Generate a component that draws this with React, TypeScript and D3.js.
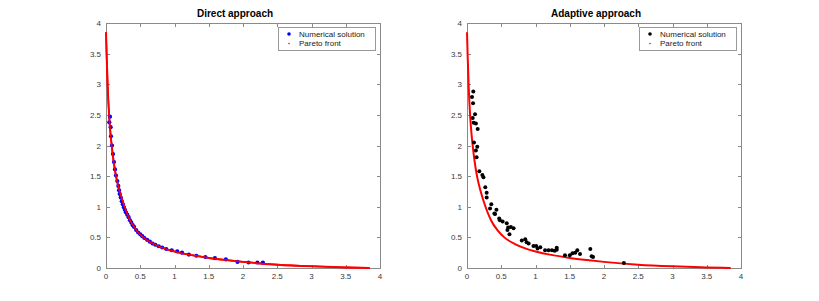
import React, { useEffect, useRef } from 'react';
import * as d3 from 'd3';

// Pareto front (same in both panels)
const frontX = [0, 0.01, 0.025, 0.045, 0.065, 0.083, 0.11, 0.146, 0.2, 0.27, 0.35, 0.45, 0.545, 0.7, 0.85, 1.0, 1.25, 1.5, 1.75, 2.0, 2.5, 3.0, 3.5, 3.85];
const frontY = [3.85, 3.45, 2.95, 2.5, 2.2, 2.0, 1.75, 1.5, 1.25, 1.0, 0.78, 0.61, 0.5, 0.39, 0.32, 0.27, 0.21, 0.165, 0.13, 0.1, 0.055, 0.028, 0.01, 0.0];

// Direct approach: numerical solution (blue)
const directX = [0.058, 0.048, 0.068, 0.073, 0.088, 0.102, 0.117, 0.131, 0.146, 0.165, 0.18, 0.19, 0.2, 0.215, 0.23, 0.245, 0.26, 0.275, 0.29, 0.31, 0.33, 0.35, 0.37, 0.39, 0.41, 0.44, 0.47, 0.5, 0.53, 0.56, 0.6, 0.64, 0.68, 0.72, 0.77, 0.82, 0.88, 0.96, 1.04, 1.11, 1.21, 1.32, 1.45, 1.59, 1.75, 1.92, 2.08, 2.21, 2.29];
const directY = [2.47, 2.38, 2.3, 2.15, 2.0, 1.86, 1.73, 1.61, 1.51, 1.42, 1.34, 1.27, 1.21, 1.15, 1.09, 1.04, 0.99, 0.95, 0.91, 0.87, 0.83, 0.78, 0.74, 0.7, 0.67, 0.62, 0.58, 0.55, 0.52, 0.49, 0.46, 0.43, 0.4, 0.38, 0.355, 0.335, 0.31, 0.29, 0.27, 0.25, 0.22, 0.2, 0.18, 0.16, 0.14, 0.1, 0.09, 0.09, 0.09];

// Adaptive approach: numerical solution (black)
const adaptiveX = [0.092, 0.073, 0.088, 0.117, 0.083, 0.097, 0.13, 0.156, 0.102, 0.15, 0.13, 0.14, 0.18, 0.224, 0.24, 0.267, 0.287, 0.287, 0.355, 0.336, 0.4, 0.43, 0.41, 0.47, 0.48, 0.52, 0.58, 0.6, 0.64, 0.68, 0.62, 0.59, 0.8, 0.85, 0.87, 0.9, 0.97, 1.01, 1.03, 1.07, 1.14, 1.19, 1.24, 1.28, 1.31, 1.31, 1.43, 1.5, 1.54, 1.58, 1.61, 1.65, 1.8, 1.82, 1.84, 2.29];
const adaptiveY = [2.88, 2.79, 2.69, 2.51, 2.45, 2.37, 2.36, 2.27, 2.05, 1.98, 1.92, 1.81, 1.58, 1.52, 1.48, 1.32, 1.23, 1.15, 1.04, 0.97, 0.89, 0.95, 0.88, 0.81, 0.78, 0.76, 0.73, 0.66, 0.67, 0.65, 0.55, 0.62, 0.45, 0.47, 0.42, 0.4, 0.36, 0.36, 0.32, 0.34, 0.29, 0.29, 0.29, 0.28, 0.33, 0.3, 0.21, 0.21, 0.24, 0.25, 0.29, 0.23, 0.31, 0.19, 0.18, 0.08];

const ticks = [0, 0.5, 1, 1.5, 2, 2.5, 3, 3.5, 4];
const tickLabels = ['0', '0.5', '1', '1.5', '2', '2.5', '3', '3.5', '4'];

const panels = [
  { title: 'Direct approach', xs: directX, ys: directY, color: '#0000ff', r: 2.1, left: 106 },
  { title: 'Adaptive approach', xs: adaptiveX, ys: adaptiveY, color: '#000000', r: 2, left: 467 },
];

const App = () => {
  const ref = useRef(null);

  useEffect(() => {
    const svg = d3.select(ref.current);
    svg.selectAll('*').remove();

    const top = 23, w = 274, h = 245;
    const font = '"Liberation Sans", Arial, Helvetica, sans-serif';
    const axisColor = '#8a8a8a';
    const labelColor = '#3a3a3a';

    panels.forEach(p => {
      const x = d3.scaleLinear().domain([0, 4]).range([p.left, p.left + w]);
      const y = d3.scaleLinear().domain([0, 4]).range([top + h, top]);
      const g = svg.append('g');

      // box
      g.append('rect')
        .attr('x', p.left + 0.5).attr('y', top + 0.5)
        .attr('width', w).attr('height', h)
        .attr('fill', 'none').attr('stroke', axisColor).attr('stroke-width', 1);

      // ticks inward on all four sides
      const tl = 3.5;
      ticks.forEach((t, i) => {
        const px = Math.round(x(t)) + 0.5;
        const py = Math.round(y(t)) + 0.5;
        g.append('line').attr('x1', px).attr('x2', px).attr('y1', top + h + 0.5).attr('y2', top + h + 0.5 - tl).attr('stroke', axisColor);
        g.append('line').attr('x1', px).attr('x2', px).attr('y1', top + 0.5).attr('y2', top + 0.5 + tl).attr('stroke', axisColor);
        g.append('line').attr('y1', py).attr('y2', py).attr('x1', p.left + 0.5).attr('x2', p.left + 0.5 + tl).attr('stroke', axisColor);
        g.append('line').attr('y1', py).attr('y2', py).attr('x1', p.left + w + 0.5).attr('x2', p.left + w + 0.5 - tl).attr('stroke', axisColor);

        g.append('text').attr('x', x(t)).attr('y', top + h + 11)
          .attr('text-anchor', 'middle').attr('font-family', font).attr('font-size', 8)
          .attr('fill', labelColor).text(tickLabels[i]);
        g.append('text').attr('x', p.left - 5).attr('y', y(t) + 3)
          .attr('text-anchor', 'end').attr('font-family', font).attr('font-size', 8)
          .attr('fill', labelColor).text(tickLabels[i]);
      });

      // title
      g.append('text').attr('x', p.left + w / 2 - 8).attr('y', 17)
        .attr('text-anchor', 'middle').attr('font-family', font).attr('font-size', 10)
        .attr('font-weight', 'bold').attr('fill', '#000').text(p.title);

      // Pareto front
      const front = frontX.map((v, i) => [v, frontY[i]]);
      const frontLine = d3.line().x(d => x(d[0])).y(d => y(d[1])).curve(d3.curveMonotoneX);
      g.append('path')
        .datum(front)
        .attr('fill', 'none').attr('stroke', '#ff0000').attr('stroke-width', 2)
        .attr('d', frontLine);

      // numerical solution
      g.selectAll('circle.pt')
        .data(p.xs.map((v, i) => [v, p.ys[i]]))
        .enter().append('circle')
        .attr('class', 'pt')
        .attr('cx', d => x(d[0])).attr('cy', d => y(d[1]))
        .attr('r', p.r).attr('fill', p.color);

      // in the direct panel the red front sits over the dots
      if (p.color === '#0000ff') {
        g.append('path')
          .datum(front)
          .attr('fill', 'none').attr('stroke', '#ff0000').attr('stroke-width', 1.6)
          .attr('d', frontLine);
      }

      // legend
      const lx = p.left + 172, ly = 27;
      g.append('rect').attr('x', lx + 0.5).attr('y', ly + 0.5).attr('width', 97).attr('height', 23)
        .attr('fill', '#fff').attr('stroke', '#999').attr('stroke-width', 1);
      g.append('circle').attr('cx', lx + 11).attr('cy', ly + 7).attr('r', 1.8).attr('fill', p.color);
      g.append('circle').attr('cx', lx + 11).attr('cy', ly + 16.5).attr('r', 0.8).attr('fill', '#ff0000');
      g.append('text').attr('x', lx + 21).attr('y', ly + 9.8).attr('font-family', font).attr('font-size', 8)
        .attr('fill', '#222').text('Numerical solution');
      g.append('text').attr('x', lx + 21).attr('y', ly + 19.3).attr('font-family', font).attr('font-size', 8)
        .attr('fill', '#222').text('Pareto front');
    });
  }, []);

  return (
    <svg ref={ref} width={819} height={301}
      style={{ position: 'absolute', left: 0, top: 0, background: '#fff' }} />
  );
};

export default App;
